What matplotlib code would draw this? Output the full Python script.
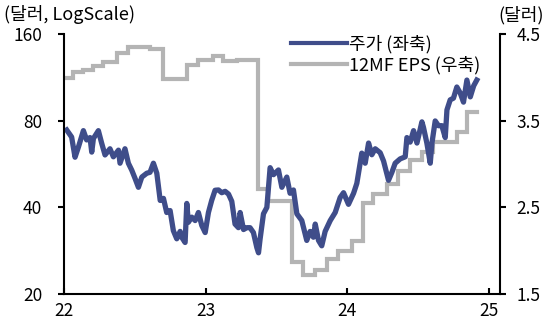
import numpy as np
import matplotlib
matplotlib.use("Agg")
import matplotlib.pyplot as plt
from matplotlib.ticker import FixedLocator, NullLocator

plt.rcParams['font.family'] = ['Noto Sans CJK KR', 'DejaVu Sans']

# price (USD, log scale) - x in fractional years (22 = 2022)
price_x = [22.016, 22.051, 22.075, 22.099, 22.134, 22.157, 22.181, 22.193, 22.205, 22.240,
           22.263, 22.287, 22.322, 22.346, 22.382, 22.393, 22.428, 22.452, 22.476, 22.499,
           22.523, 22.547, 22.582, 22.605, 22.629, 22.653, 22.677, 22.700, 22.723, 22.747,
           22.770, 22.794, 22.818, 22.829, 22.853, 22.865, 22.876, 22.900, 22.924, 22.947,
           22.971, 22.995, 23.018, 23.041, 23.065, 23.089, 23.112, 23.136, 23.160, 23.183,
           23.206, 23.230, 23.242, 23.266, 23.289, 23.312, 23.336, 23.360, 23.372, 23.383,
           23.407, 23.431, 23.454, 23.478, 23.513, 23.537, 23.572, 23.595, 23.619, 23.643,
           23.678, 23.713, 23.737, 23.760, 23.773, 23.796, 23.819, 23.843, 23.879, 23.914,
           23.949, 23.973, 24.008, 24.044, 24.067, 24.102, 24.126, 24.150, 24.173, 24.197,
           24.232, 24.256, 24.291, 24.315, 24.338, 24.373, 24.409, 24.421, 24.444, 24.468,
           24.492, 24.527, 24.538, 24.562, 24.586, 24.598, 24.621, 24.644, 24.668, 24.692,
           24.704, 24.727, 24.750, 24.774, 24.798, 24.821, 24.845, 24.869, 24.893, 24.915]
price = [74.4, 70.3, 59.8, 64.9, 74.0, 68.7, 70.0, 62.3, 69.5, 74.0,
         67.0, 60.9, 64.0, 60.0, 63.3, 57.0, 64.0, 57.0, 53.9, 50.5,
         47.0, 51.0, 52.6, 53.0, 57.0, 52.6, 42.3, 43.0, 38.4, 39.0,
         33.2, 31.1, 33.0, 31.5, 30.2, 41.3, 35.5, 37.0, 36.0, 38.4,
         34.6, 32.7, 38.4, 42.3, 45.9, 46.0, 45.0, 45.5, 44.5, 42.0,
         35.0, 34.0, 38.4, 33.5, 34.0, 34.0, 32.7, 29.0, 27.8, 31.0,
         38.0, 40.0, 55.0, 52.0, 54.0, 47.0, 51.0, 44.8, 46.0, 38.0,
         36.0, 30.7, 33.0, 31.5, 35.0, 30.7, 29.4, 33.0, 36.0, 38.4,
         43.3, 45.0, 41.0, 44.8, 48.5, 61.8, 57.0, 67.0, 61.0, 64.0,
         62.0, 58.0, 49.7, 53.0, 57.0, 59.0, 60.0, 70.0, 67.5, 74.0,
         67.0, 79.4, 76.0, 67.0, 57.0, 67.0, 80.0, 77.0, 77.0, 70.0,
         87.4, 94.7, 96.0, 105.0, 100.0, 93.0, 111.0, 97.0, 106.0, 111.0]

# 12MF EPS (USD), step starts
eps_x = [22.000, 22.061, 22.131, 22.202, 22.273, 22.372, 22.449, 22.605, 22.698, 22.868,
         22.945, 23.051, 23.122, 23.221, 23.369, 23.440, 23.609, 23.688, 23.773, 23.858,
         23.935, 24.034, 24.112, 24.182, 24.282, 24.359, 24.444, 24.529, 24.607, 24.777,
         24.848, 24.915]
eps = [4.00, 4.06, 4.09, 4.14, 4.18, 4.29, 4.36, 4.33, 3.98, 4.15,
       4.21, 4.25, 4.19, 4.20, 2.71, 2.57, 1.87, 1.72, 1.78, 1.90,
       2.00, 2.11, 2.55, 2.66, 2.77, 2.92, 3.05, 3.14, 3.26, 3.37,
       3.60, 3.60]

x_ticks = [22, 23, 24, 25]
left_ticks = [20, 40, 80, 160]
right_ticks = [1.5, 2.5, 3.5, 4.5]

blue = '#3f4d8a'
gray = '#b4b4b4'

fig = plt.figure(figsize=(5.46, 3.28), dpi=100)
ax = fig.add_axes([0.118, 0.104, 0.798, 0.791])
ax2 = ax.twinx()

ax2.plot(eps_x, eps, color=gray, lw=3.0, drawstyle='steps-post', solid_joinstyle='miter')
ax.plot(price_x, price, color=blue, lw=3.8, solid_joinstyle='round')

# price line drawn above EPS
ax.set_zorder(ax2.get_zorder() + 1)
ax.patch.set_visible(False)

ax.set_yscale('log')
ax.set_ylim(20, 160)
ax.yaxis.set_major_locator(FixedLocator(left_ticks))
ax.yaxis.set_minor_locator(NullLocator())
ax.set_yticklabels([str(t) for t in left_ticks])
ax.set_xlim(22, 25.08)
ax.set_xticks(x_ticks)
ax.set_xticklabels([str(t) for t in x_ticks])

ax2.set_ylim(1.5, 4.5)
ax2.set_yticks(right_ticks)
ax2.set_yticklabels([str(t) for t in right_ticks])

for a in (ax, ax2):
    a.spines['top'].set_visible(False)
    for s in a.spines.values():
        s.set_linewidth(1.5)
ax.spines['right'].set_visible(False)
ax2.spines['left'].set_visible(False)
ax2.spines['bottom'].set_visible(False)

ax.tick_params(axis='y', direction='out', length=4, width=1.5, labelsize=12.5, pad=12)
ax.tick_params(axis='x', direction='in', length=4, width=1.5, labelsize=12.5, pad=6)
ax2.tick_params(axis='y', direction='out', length=4, width=1.5, labelsize=12.5, pad=8)

fig.text(0.008, 0.955, '(달러, LogScale)', fontsize=13, ha='left', va='center')
fig.text(0.996, 0.955, '(달러)', fontsize=13, ha='right', va='center')

handles = [plt.Line2D([], [], color=blue, lw=3.0),
           plt.Line2D([], [], color=gray, lw=3.0)]
fig.legend(handles, ['주가 (좌축)', '12MF EPS (우축)'], loc='upper right',
           bbox_to_anchor=(0.897, 0.92), frameon=False, fontsize=13,
           handlelength=3.1, handletextpad=0.15, labelspacing=0.12, borderpad=0)

fig.savefig('out.png', dpi=100)
